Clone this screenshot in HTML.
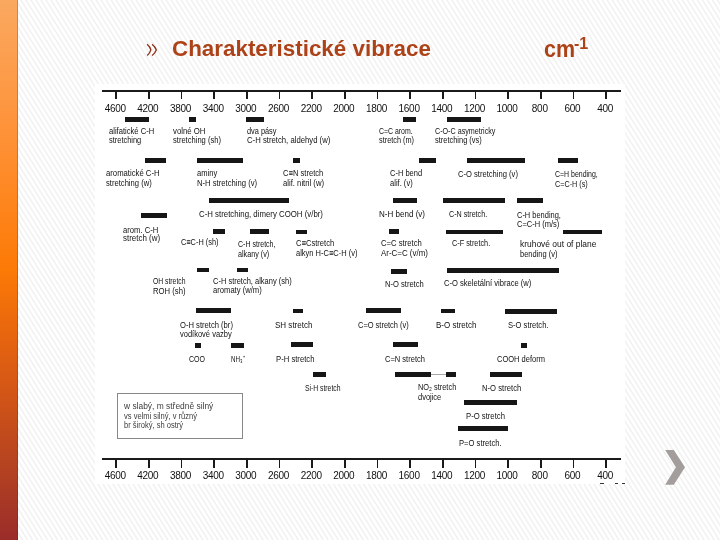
<!DOCTYPE html>
<html><head><meta charset="utf-8"><title>Charakteristické vibrace</title>
<style>
html,body{margin:0;padding:0}
body{width:720px;height:540px;position:relative;overflow:hidden;background-color:#fff;background-image:repeating-linear-gradient(58deg,#fff 0px,#fff 0.8px,#f0f0f0 2.0px,#f1f1f1 2.35px,#fff 3.5px,#fff 4.25px)}
#side{position:absolute;left:0;top:0;width:18px;height:540px;background:linear-gradient(180deg,#faa860 0%,#fe933a 23.5%,#fe861e 37.4%,#fc7a06 50%,#e8660e 61.5%,#d55716 71.7%,#b74420 85.5%,#9a2c2a 100%)}
#side:after{content:"";position:absolute;right:0;top:0;width:1px;height:540px;background:rgba(90,30,0,.25)}
.ttl{position:absolute;will-change:transform;font-family:"Liberation Sans",sans-serif;font-weight:bold;color:#ad4218;white-space:nowrap;line-height:1}
#chart{position:absolute;left:95px;top:84px;width:530px;height:400px;background:#fff}
.ax{position:absolute;background:#1a1a1a}
.b{position:absolute;background:#161616}
#tx{position:absolute;left:0;top:0;width:720px;height:540px;will-change:transform}
.t{position:absolute;transform-origin:0 0;font-family:"Liberation Sans",sans-serif;font-size:8.70px;line-height:9.00px;color:#111;white-space:nowrap}
.n{position:absolute;font-family:"Liberation Sans",sans-serif;font-size:10px;line-height:10px;letter-spacing:-0.3px;color:#111;white-space:nowrap;text-align:center;width:40px}
#leg{position:absolute;left:117px;top:393px;width:124px;height:44px;border:1px solid #888}
</style></head><body>
<div id="side"></div>
<svg style="position:absolute;left:0;top:0" width="200" height="80"><path d="M147.1,44.3 Q149.9,46.8 150.9,49.9 Q149.9,53 147.2,55.6 M152.1,44.3 Q155.1,46.8 156.3,49.9 Q155.1,53 152.1,55.6" fill="none" stroke="#8e3119" stroke-width="1.35"/></svg>
<div class="ttl" style="left:172.3px;top:37.6px;font-size:22.4px">Charakteristické vibrace</div>
<div class="ttl" style="left:544px;top:37px;font-size:24px"><span style="display:inline-block;transform:scaleX(0.895);transform-origin:0 0">cm</span></div>
<div class="ttl" style="left:574.3px;top:35.6px;font-size:16px">-1</div>
<div id="chart"></div>
<div class="ax" style="left:102px;top:90.0px;width:518.5px;height:2.1px"></div>
<div class="ax" style="left:115.30px;top:92.0px;width:1.8px;height:7.2px"></div>
<div class="ax" style="left:147.96px;top:92.0px;width:1.8px;height:7.2px"></div>
<div class="ax" style="left:180.62px;top:92.0px;width:1.8px;height:7.2px"></div>
<div class="ax" style="left:213.28px;top:92.0px;width:1.8px;height:7.2px"></div>
<div class="ax" style="left:245.94px;top:92.0px;width:1.8px;height:7.2px"></div>
<div class="ax" style="left:278.60px;top:92.0px;width:1.8px;height:7.2px"></div>
<div class="ax" style="left:311.26px;top:92.0px;width:1.8px;height:7.2px"></div>
<div class="ax" style="left:343.92px;top:92.0px;width:1.8px;height:7.2px"></div>
<div class="ax" style="left:376.58px;top:92.0px;width:1.8px;height:7.2px"></div>
<div class="ax" style="left:409.24px;top:92.0px;width:1.8px;height:7.2px"></div>
<div class="ax" style="left:441.90px;top:92.0px;width:1.8px;height:7.2px"></div>
<div class="ax" style="left:474.56px;top:92.0px;width:1.8px;height:7.2px"></div>
<div class="ax" style="left:507.22px;top:92.0px;width:1.8px;height:7.2px"></div>
<div class="ax" style="left:539.88px;top:92.0px;width:1.8px;height:7.2px"></div>
<div class="ax" style="left:572.54px;top:92.0px;width:1.8px;height:7.2px"></div>
<div class="ax" style="left:605.20px;top:92.0px;width:1.8px;height:7.2px"></div>
<div class="ax" style="left:102px;top:457.7px;width:518.5px;height:2.1px"></div>
<div class="ax" style="left:115.30px;top:459.7px;width:1.8px;height:8.0px"></div>
<div class="ax" style="left:147.96px;top:459.7px;width:1.8px;height:8.0px"></div>
<div class="ax" style="left:180.62px;top:459.7px;width:1.8px;height:8.0px"></div>
<div class="ax" style="left:213.28px;top:459.7px;width:1.8px;height:8.0px"></div>
<div class="ax" style="left:245.94px;top:459.7px;width:1.8px;height:8.0px"></div>
<div class="ax" style="left:278.60px;top:459.7px;width:1.8px;height:8.0px"></div>
<div class="ax" style="left:311.26px;top:459.7px;width:1.8px;height:8.0px"></div>
<div class="ax" style="left:343.92px;top:459.7px;width:1.8px;height:8.0px"></div>
<div class="ax" style="left:376.58px;top:459.7px;width:1.8px;height:8.0px"></div>
<div class="ax" style="left:409.24px;top:459.7px;width:1.8px;height:8.0px"></div>
<div class="ax" style="left:441.90px;top:459.7px;width:1.8px;height:8.0px"></div>
<div class="ax" style="left:474.56px;top:459.7px;width:1.8px;height:8.0px"></div>
<div class="ax" style="left:507.22px;top:459.7px;width:1.8px;height:8.0px"></div>
<div class="ax" style="left:539.88px;top:459.7px;width:1.8px;height:8.0px"></div>
<div class="ax" style="left:572.54px;top:459.7px;width:1.8px;height:8.0px"></div>
<div class="ax" style="left:605.20px;top:459.7px;width:1.8px;height:8.0px"></div>
<div class="b" style="left:125.0px;top:116.8px;width:24.0px;height:5.0px"></div>
<div class="b" style="left:189.3px;top:116.8px;width:6.5px;height:5.0px"></div>
<div class="b" style="left:246.3px;top:116.8px;width:18.0px;height:5.0px"></div>
<div class="b" style="left:403.0px;top:116.8px;width:12.8px;height:5.0px"></div>
<div class="b" style="left:447.0px;top:116.8px;width:33.5px;height:5.0px"></div>
<div class="b" style="left:145.0px;top:158.0px;width:21.3px;height:5.0px"></div>
<div class="b" style="left:197.0px;top:158.0px;width:46.0px;height:5.0px"></div>
<div class="b" style="left:293.0px;top:158.0px;width:6.5px;height:5.0px"></div>
<div class="b" style="left:418.8px;top:158.0px;width:17.5px;height:5.0px"></div>
<div class="b" style="left:467.0px;top:158.0px;width:57.5px;height:5.0px"></div>
<div class="b" style="left:557.5px;top:158.0px;width:20.0px;height:5.0px"></div>
<div class="b" style="left:209.3px;top:198.3px;width:79.5px;height:5.0px"></div>
<div class="b" style="left:393.3px;top:198.3px;width:23.7px;height:5.0px"></div>
<div class="b" style="left:443.0px;top:198.3px;width:62.0px;height:5.0px"></div>
<div class="b" style="left:517.0px;top:198.3px;width:26.0px;height:5.0px"></div>
<div class="b" style="left:141.3px;top:213.0px;width:25.5px;height:5.0px"></div>
<div class="b" style="left:213.0px;top:229.3px;width:12.0px;height:4.7px"></div>
<div class="b" style="left:250.0px;top:229.3px;width:18.8px;height:4.7px"></div>
<div class="b" style="left:296.3px;top:229.5px;width:10.7px;height:4.7px"></div>
<div class="b" style="left:389.2px;top:229.3px;width:9.5px;height:4.7px"></div>
<div class="b" style="left:445.6px;top:229.5px;width:57.2px;height:4.7px"></div>
<div class="b" style="left:563.0px;top:229.5px;width:39.0px;height:4.7px"></div>
<div class="b" style="left:197.0px;top:267.5px;width:11.8px;height:4.5px"></div>
<div class="b" style="left:237.0px;top:267.5px;width:11.0px;height:4.5px"></div>
<div class="b" style="left:391.3px;top:268.8px;width:15.7px;height:5.0px"></div>
<div class="b" style="left:447.0px;top:268.0px;width:111.8px;height:4.7px"></div>
<div class="b" style="left:196.3px;top:308.2px;width:34.5px;height:5.0px"></div>
<div class="b" style="left:293.0px;top:308.7px;width:10.3px;height:4.5px"></div>
<div class="b" style="left:365.8px;top:308.2px;width:35.5px;height:5.0px"></div>
<div class="b" style="left:441.3px;top:308.5px;width:13.7px;height:4.7px"></div>
<div class="b" style="left:505.0px;top:308.8px;width:52.0px;height:5.0px"></div>
<div class="b" style="left:195.0px;top:343.0px;width:6.3px;height:4.5px"></div>
<div class="b" style="left:231.3px;top:343.0px;width:13.0px;height:4.5px"></div>
<div class="b" style="left:291.3px;top:342.0px;width:21.7px;height:4.8px"></div>
<div class="b" style="left:393.3px;top:342.0px;width:24.7px;height:5.3px"></div>
<div class="b" style="left:521.3px;top:342.5px;width:5.7px;height:5.0px"></div>
<div class="b" style="left:313.3px;top:372.0px;width:13.0px;height:5.0px"></div>
<div class="b" style="left:395.0px;top:372.0px;width:35.8px;height:5.0px"></div>
<div class="b" style="left:446.3px;top:372.0px;width:9.5px;height:5.0px"></div>
<div class="b" style="left:490.0px;top:372.0px;width:32.0px;height:5.3px"></div>
<div class="b" style="left:463.8px;top:400.0px;width:53.7px;height:4.8px"></div>
<div class="b" style="left:458.3px;top:426.2px;width:49.7px;height:4.7px"></div>
<div class="b" style="left:600.0px;top:482.6px;width:3.5px;height:1.2px;background:#333"></div>
<div class="b" style="left:615.3px;top:482.6px;width:2.5px;height:1.2px;background:#333"></div>
<div class="b" style="left:622.3px;top:482.6px;width:2.7px;height:1.2px;background:#333"></div>
<div class="b" style="left:430.8px;top:373.7px;width:15.5px;height:1.6px;background:#aaa"></div>
<div id="leg"></div>
<div id="tx">
<div class="n" style="left:95.20px;top:103.50px">4600</div>
<div class="n" style="left:127.86px;top:103.50px">4200</div>
<div class="n" style="left:160.52px;top:103.50px">3800</div>
<div class="n" style="left:193.18px;top:103.50px">3400</div>
<div class="n" style="left:225.84px;top:103.50px">3000</div>
<div class="n" style="left:258.50px;top:103.50px">2600</div>
<div class="n" style="left:291.16px;top:103.50px">2200</div>
<div class="n" style="left:323.82px;top:103.50px">2000</div>
<div class="n" style="left:356.48px;top:103.50px">1800</div>
<div class="n" style="left:389.14px;top:103.50px">1600</div>
<div class="n" style="left:421.80px;top:103.50px">1400</div>
<div class="n" style="left:454.46px;top:103.50px">1200</div>
<div class="n" style="left:487.12px;top:103.50px">1000</div>
<div class="n" style="left:519.78px;top:103.50px">800</div>
<div class="n" style="left:552.44px;top:103.50px">600</div>
<div class="n" style="left:585.10px;top:103.50px">400</div>
<div class="n" style="left:95.20px;top:471.39px">4600</div>
<div class="n" style="left:127.86px;top:471.39px">4200</div>
<div class="n" style="left:160.52px;top:471.39px">3800</div>
<div class="n" style="left:193.18px;top:471.39px">3400</div>
<div class="n" style="left:225.84px;top:471.39px">3000</div>
<div class="n" style="left:258.50px;top:471.39px">2600</div>
<div class="n" style="left:291.16px;top:471.39px">2200</div>
<div class="n" style="left:323.82px;top:471.39px">2000</div>
<div class="n" style="left:356.48px;top:471.39px">1800</div>
<div class="n" style="left:389.14px;top:471.39px">1600</div>
<div class="n" style="left:421.80px;top:471.39px">1400</div>
<div class="n" style="left:454.46px;top:471.39px">1200</div>
<div class="n" style="left:487.12px;top:471.39px">1000</div>
<div class="n" style="left:519.78px;top:471.39px">800</div>
<div class="n" style="left:552.44px;top:471.39px">600</div>
<div class="n" style="left:585.10px;top:471.39px">400</div>
<div class="t" style="left:109.00px;top:127.22px;transform:scaleX(0.874)">alifatické C-H</div>
<div class="t" style="left:109.00px;top:136.22px;transform:scaleX(0.856)">stretching</div>
<div class="t" style="left:172.50px;top:127.22px;transform:scaleX(0.896)">volné OH</div>
<div class="t" style="left:172.50px;top:136.22px;transform:scaleX(0.871)">stretching (sh)</div>
<div class="t" style="left:247.00px;top:127.22px;transform:scaleX(0.847)">dva pásy</div>
<div class="t" style="left:247.00px;top:136.22px;transform:scaleX(0.890)">C-H stretch, aldehyd (w)</div>
<div class="t" style="left:378.80px;top:127.22px;transform:scaleX(0.797)">C=C arom.</div>
<div class="t" style="left:378.80px;top:136.22px;transform:scaleX(0.842)">stretch (m)</div>
<div class="t" style="left:434.50px;top:127.22px;transform:scaleX(0.824)">C-O-C asymetricky</div>
<div class="t" style="left:434.50px;top:136.22px;transform:scaleX(0.857)">stretching (vs)</div>
<div class="t" style="left:105.50px;top:169.42px;transform:scaleX(0.887)">aromatické C-H</div>
<div class="t" style="left:105.50px;top:179.22px;transform:scaleX(0.877)">stretching (w)</div>
<div class="t" style="left:196.80px;top:169.42px;transform:scaleX(0.870)">aminy</div>
<div class="t" style="left:196.80px;top:179.22px;transform:scaleX(0.883)">N-H stretching (v)</div>
<div class="t" style="left:282.70px;top:168.92px;transform:scaleX(0.873)">C≡N stretch</div>
<div class="t" style="left:282.70px;top:179.22px;transform:scaleX(0.886)">alif. nitril (w)</div>
<div class="t" style="left:390.30px;top:169.12px;transform:scaleX(0.865)">C-H bend</div>
<div class="t" style="left:390.30px;top:179.22px;transform:scaleX(0.870)">alif. (v)</div>
<div class="t" style="left:458.00px;top:170.12px;transform:scaleX(0.874)">C-O stretching (v)</div>
<div class="t" style="left:554.70px;top:170.42px;transform:scaleX(0.801)">C=H bending,</div>
<div class="t" style="left:554.70px;top:180.22px;transform:scaleX(0.833)">C=C-H (s)</div>
<div class="t" style="left:198.80px;top:210.42px;transform:scaleX(0.901)">C-H stretching, dimery COOH (v/br)</div>
<div class="t" style="left:379.30px;top:210.42px;transform:scaleX(0.926)">N-H bend (v)</div>
<div class="t" style="left:449.20px;top:210.02px;transform:scaleX(0.823)">C-N stretch.</div>
<div class="t" style="left:516.80px;top:210.92px;transform:scaleX(0.858)">C-H bending,</div>
<div class="t" style="left:516.80px;top:220.42px;transform:scaleX(0.864)">C=C-H (m/s)</div>
<div class="t" style="left:122.90px;top:225.62px;transform:scaleX(0.882)">arom. C-H</div>
<div class="t" style="left:122.90px;top:233.92px;transform:scaleX(0.914)">stretch (w)</div>
<div class="t" style="left:181.30px;top:238.42px;transform:scaleX(0.848)">C≡C-H (sh)</div>
<div class="t" style="left:237.50px;top:239.82px;transform:scaleX(0.808)">C-H stretch,</div>
<div class="t" style="left:237.50px;top:249.82px;transform:scaleX(0.830)">alkany (v)</div>
<div class="t" style="left:295.50px;top:238.82px;transform:scaleX(0.875)">C≡Cstretch</div>
<div class="t" style="left:295.50px;top:249.42px;transform:scaleX(0.863)">alkyn H-C≡C-H (v)</div>
<div class="t" style="left:380.50px;top:239.02px;transform:scaleX(0.884)">C=C stretch</div>
<div class="t" style="left:380.50px;top:249.42px;transform:scaleX(0.913)">Ar-C=C (v/m)</div>
<div class="t" style="left:451.80px;top:239.12px;transform:scaleX(0.841)">C-F stretch.</div>
<div class="t" style="left:519.50px;top:240.22px;transform:scaleX(0.970)">kruhové out of plane</div>
<div class="t" style="left:519.50px;top:249.82px;transform:scaleX(0.862)">bending (v)</div>
<div class="t" style="left:152.50px;top:276.72px;transform:scaleX(0.782)">OH stretch</div>
<div class="t" style="left:152.50px;top:286.62px;transform:scaleX(0.885)">ROH (sh)</div>
<div class="t" style="left:212.50px;top:276.62px;transform:scaleX(0.862)">C-H stretch, alkany (sh)</div>
<div class="t" style="left:212.50px;top:286.22px;transform:scaleX(0.878)">aromaty (w/m)</div>
<div class="t" style="left:385.00px;top:279.62px;transform:scaleX(0.872)">N-O stretch</div>
<div class="t" style="left:443.80px;top:278.62px;transform:scaleX(0.874)">C-O skeletální vibrace (w)</div>
<div class="t" style="left:179.50px;top:320.72px;transform:scaleX(0.877)">O-H stretch (br)</div>
<div class="t" style="left:179.50px;top:329.92px;transform:scaleX(0.864)">vodíkové vazby</div>
<div class="t" style="left:274.50px;top:320.92px;transform:scaleX(0.923)">SH stretch</div>
<div class="t" style="left:358.00px;top:320.92px;transform:scaleX(0.858)">C=O stretch (v)</div>
<div class="t" style="left:435.50px;top:320.92px;transform:scaleX(0.921)">B-O stretch</div>
<div class="t" style="left:507.50px;top:321.42px;transform:scaleX(0.873)">S-O stretch.</div>
<div class="t" style="left:188.90px;top:354.62px;transform:scaleX(0.812)">COO</div>
<div class="t" style="left:231.30px;top:354.72px;transform:scaleX(0.720)">NH₃⁺</div>
<div class="t" style="left:276.00px;top:354.72px;transform:scaleX(0.885)">P-H stretch</div>
<div class="t" style="left:384.50px;top:354.72px;transform:scaleX(0.866)">C=N stretch</div>
<div class="t" style="left:497.00px;top:354.72px;transform:scaleX(0.863)">COOH deform</div>
<div class="t" style="left:305.00px;top:383.52px;transform:scaleX(0.781)">Si-H stretch</div>
<div class="t" style="left:418.00px;top:383.02px;transform:scaleX(0.852)">NO₂ stretch</div>
<div class="t" style="left:418.00px;top:393.42px;transform:scaleX(0.860)">dvojice</div>
<div class="t" style="left:482.00px;top:383.52px;transform:scaleX(0.884)">N-O stretch</div>
<div class="t" style="left:465.50px;top:411.52px;transform:scaleX(0.886)">P-O stretch</div>
<div class="t" style="left:458.70px;top:438.52px;transform:scaleX(0.877)">P=O stretch.</div>
<div class="t" style="left:124.02px;top:402.42px;transform:scaleX(0.968);color:#3c3c3c">w slabý, m středně silný</div>
<div class="t" style="left:124.00px;top:412.32px;transform:scaleX(0.869);color:#3c3c3c">vs velmi silný, v různý</div>
<div class="t" style="left:124.00px;top:421.42px;transform:scaleX(0.868);color:#3c3c3c">br široký, sh ostrý</div>
</div>
<svg style="position:absolute;left:0;top:0" width="720" height="540"><polygon points="665.2,450 673.8,450 685,467.2 673.8,484.8 665.2,484.8 675.9,467.2" fill="#a39e9b"/></svg>
</body></html>
